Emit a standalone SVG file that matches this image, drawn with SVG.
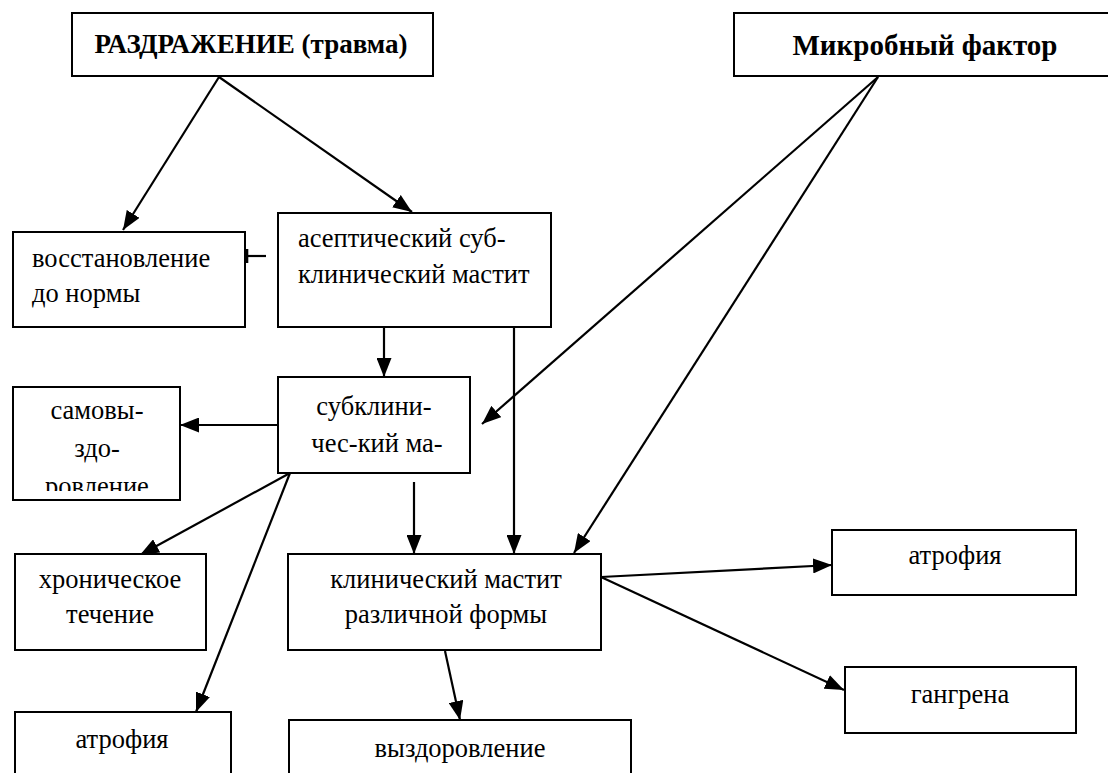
<svg xmlns="http://www.w3.org/2000/svg" width="1108" height="773" viewBox="0 0 1108 773">
<style>
.box{fill:#fff;stroke:#000;stroke-width:2}
text{font-family:'Liberation Serif','Times New Roman',serif;font-size:26.5px;fill:#000}
.b{font-weight:bold;font-size:27px}
.c{text-anchor:middle}
.ln{stroke:#000;stroke-width:2.2;fill:none}
.ar{marker-end:url(#ah)}
</style>
<defs>
<marker id="ah" markerWidth="19" markerHeight="15" refX="19" refY="7.5" orient="auto" markerUnits="userSpaceOnUse">
<path d="M0,0 L19,7.5 L0,15 z" fill="#000"/>
</marker>
<clipPath id="clipSam"><rect x="13" y="387" width="167" height="104"/></clipPath>
</defs>
<rect width="1108" height="773" fill="#fff"/>
<g id="connectors">
<line class="ln ar" x1="219" y1="77" x2="123" y2="230"/>
<line class="ln ar" x1="219" y1="77" x2="412" y2="212"/>
<line class="ln" x1="246" y1="256" x2="266" y2="256"/>
<line class="ln" x1="247" y1="249" x2="247" y2="263" style="stroke-width:2.6"/>
<line class="ln ar" x1="384" y1="327" x2="384" y2="377"/>
<line class="ln ar" x1="514" y1="327" x2="514" y2="554"/>
<line class="ln ar" x1="878" y1="77" x2="482" y2="424"/>
<line class="ln ar" x1="878" y1="77" x2="574" y2="553"/>
<line class="ln ar" x1="287" y1="425" x2="180" y2="425"/>
<line class="ln ar" x1="290" y1="473" x2="140" y2="555"/>
<line class="ln ar" x1="290" y1="473" x2="196" y2="712"/>
<line class="ln ar" x1="414" y1="482" x2="414" y2="554"/>
<line class="ln ar" x1="601" y1="577" x2="832" y2="565"/>
<line class="ln ar" x1="601" y1="577" x2="844" y2="690"/>
<line class="ln ar" x1="445" y1="651" x2="460" y2="720"/>
</g>
<g id="n_razdr">
<rect class="box" x="72" y="13" width="361" height="63"/>
<text class="b c" x="251" y="53">РАЗДРАЖЕНИЕ (травма)</text>
</g>
<g id="n_mikrob">
<rect class="box" x="734" y="13" width="390" height="63"/>
<text class="b c" x="925" y="55" style="font-size:29px">Микробный фактор</text>
</g>
<g id="n_vosst">
<rect class="box" x="13" y="232" width="232" height="95"/>
<text x="32" y="267">восстановление</text>
<text x="32" y="302">до нормы</text>
</g>
<g id="n_asept">
<rect class="box" x="278" y="213" width="273" height="114"/>
<text x="298" y="247">асептический суб-</text>
<text x="298" y="283">клинический мастит</text>
</g>
<g id="n_samov">
<rect class="box" x="13" y="387" width="167" height="113"/>
<g clip-path="url(#clipSam)">
<text class="c" x="97" y="419">самовы-</text>
<text class="c" x="97" y="457">здо-</text>
<text class="c" x="97" y="495">ровление</text>
</g>
</g>
<g id="n_subkl">
<rect class="box" x="278" y="377" width="192" height="96"/>
<text class="c" x="374" y="415">субклини-</text>
<text class="c" x="377" y="452">чес-кий ма-</text>
</g>
<g id="n_chron">
<rect class="box" x="15" y="554" width="191" height="96"/>
<text class="c" x="110" y="588">хроническое</text>
<text class="c" x="110" y="623">течение</text>
</g>
<g id="n_klin">
<rect class="box" x="288" y="554" width="313" height="96"/>
<text class="c" x="446" y="588">клинический мастит</text>
<text class="c" x="446" y="623">различной формы</text>
</g>
<g id="n_atr_r">
<rect class="box" x="832" y="530" width="244" height="65"/>
<text class="c" x="955" y="564">атрофия</text>
</g>
<g id="n_gangr">
<rect class="box" x="845" y="667" width="231" height="66"/>
<text class="c" x="960" y="703">гангрена</text>
</g>
<g id="n_atr_l">
<rect class="box" x="15" y="712" width="216" height="70"/>
<text class="c" x="122" y="748">атрофия</text>
</g>
<g id="n_vyzd">
<rect class="box" x="289" y="720" width="342" height="70"/>
<text class="c" x="460" y="757">выздоровление</text>
</g>
</svg>
